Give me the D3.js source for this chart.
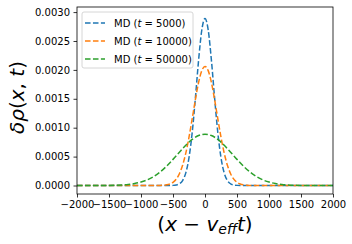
<!DOCTYPE html>
<html>
<head>
<meta charset="utf-8">
<script src="https://cdn.jsdelivr.net/npm/d3@7"></script>
<style>
  body { margin: 0; background: #fff; }
  text { font-family: "DejaVu Sans", sans-serif; fill: #000; }
</style>
</head>
<body>
<div class="chart"></div>
<script>
'use strict';

// series: position offset (x - v_eff t) and density change
var xBlue = [-2000, -1000, -600, -500, -450, -400, -350, -300, -250, -200, -150, -100, -50, 0,
             50, 100, 150, 200, 250, 300, 350, 400, 450, 500, 600, 1000, 2000];
var yBlue = [0, 0, 0, 0.0000022, 0.0000087, 0.0000293, 0.000086, 0.000218, 0.000481, 0.000917, 0.001515, 0.002169, 0.00269, 0.00289,
             0.00269, 0.002169, 0.001515, 0.000917, 0.000481, 0.000218, 0.000086, 0.0000293, 0.0000087, 0.0000022, 0, 0, 0];

var xOrange = [-2000, -1000, -750, -700, -650, -600, -550, -500, -450, -400, -350, -300, -250, -200, -150, -100, -50, 0,
               50, 100, 150, 200, 250, 300, 350, 400, 450, 500, 550, 600, 650, 700, 750, 1000, 2000];
var yOrange = [0, 0, 0, 0.0000017, 0.0000046, 0.0000113, 0.000026, 0.0000556, 0.00011, 0.000204, 0.000351, 0.000561, 0.000835, 0.001156, 0.001488, 0.001783, 0.001987, 0.00206,
               0.001987, 0.001783, 0.001488, 0.001156, 0.000835, 0.000561, 0.000351, 0.000204, 0.00011, 0.0000556, 0.000026, 0.0000113, 0.0000046, 0.0000017, 0, 0, 0];

var xGreen = [-2000, -1600, -1500, -1400, -1300, -1200, -1100, -1000, -900, -800, -700, -600, -500, -400, -300, -200, -100, 0,
              100, 200, 300, 400, 500, 600, 700, 800, 900, 1000, 1100, 1200, 1300, 1400, 1500, 1600, 2000];
var yGreen = [0, 0, 0.000002, 0.0000044, 0.0000092, 0.0000181, 0.0000337, 0.0000594, 0.0000994, 0.000157, 0.000236, 0.000335, 0.000452, 0.000576, 0.000696, 0.000797, 0.000864, 0.000888,
              0.000864, 0.000797, 0.000696, 0.000576, 0.000452, 0.000335, 0.000236, 0.000157, 0.0000994, 0.0000594, 0.0000337, 0.0000181, 0.0000092, 0.0000044, 0.000002, 0, 0];

var seriesLabels = ['5000', '10000', '50000'];
var seriesColors = ['#1f77b4', '#ff7f0e', '#2ca02c'];

var xTicks = [-2000, -1500, -1000, -500, 0, 500, 1000, 1500, 2000];
var yTicks = [0, 0.0005, 0.001, 0.0015, 0.002, 0.0025, 0.003];

function run() {
  var owidth = 352, oheight = 244;
  var margin = {top: 7, right: 19, bottom: 50, left: 77};
  var cwidth = owidth - margin.left - margin.right;
  var cheight = oheight - margin.top - margin.bottom;

  var xScale = d3.scaleLinear().domain([-2000, 2000]).range([0, cwidth]);
  var yScale = d3.scaleLinear().domain([-0.000147, 0.003088]).range([cheight, 0]);

  var svg = d3.select('.chart').append('svg')
    .attr('width', owidth)
    .attr('height', oheight);
  var chart = svg.append('g')
    .attr('transform', 'translate(' + margin.left + ',' + margin.top + ')');

  var series = [
    {x: xBlue, y: yBlue},
    {x: xOrange, y: yOrange},
    {x: xGreen, y: yGreen}
  ].map(function(s) {
    return s.x.map(function(v, i) { return [v, s.y[i]]; });
  });

  var line = d3.line()
    .x(function(d) { return xScale(d[0]); })
    .y(function(d) { return yScale(d[1]); })
    .curve(d3.curveMonotoneX);

  var clip = chart.append('clipPath').attr('id', 'clip')
    .append('rect').attr('width', cwidth).attr('height', cheight);

  chart.append('g').attr('clip-path', 'url(#clip)')
    .selectAll('path')
    .data(series)
    .enter().append('path')
    .attr('fill', 'none')
    .attr('stroke', function(d, i) { return seriesColors[i]; })
    .attr('stroke-width', 1.5)
    .attr('stroke-dasharray', '5.55,2.4')
    .attr('d', line);

  // Axes
  var xAxis = d3.axisBottom(xScale).tickValues(xTicks).tickSize(3.5).tickPadding(3.5)
    .tickFormat(d3.format('d'));
  var yAxis = d3.axisLeft(yScale).tickValues(yTicks).tickSize(3.5).tickPadding(3.5)
    .tickFormat(d3.format('.4f'));

  var gx = chart.append('g').attr('transform', 'translate(0,' + cheight + ')').call(xAxis);
  var gy = chart.append('g').call(yAxis);
  [gx, gy].forEach(function(g) {
    g.select('.domain').remove();
    g.selectAll('line').attr('stroke', '#000').attr('stroke-width', 0.8);
    g.selectAll('text').attr('font-size', 10).attr('font-family', 'DejaVu Sans').attr('fill', '#000');
  });

  chart.append('rect')
    .attr('width', cwidth).attr('height', cheight)
    .attr('fill', 'none').attr('stroke', '#000').attr('stroke-width', 0.8);

  // Legend
  var leg = chart.append('g').attr('transform', 'translate(5,5)');
  leg.append('rect')
    .attr('width', 111).attr('height', 56).attr('rx', 2)
    .attr('fill', '#fff').attr('fill-opacity', 0.8)
    .attr('stroke', '#ccc').attr('stroke-width', 0.8);
  seriesLabels.forEach(function(lbl, i) {
    var yy = 11 + i * 18;
    leg.append('line')
      .attr('x1', 3).attr('x2', 23).attr('y1', yy).attr('y2', yy)
      .attr('stroke', seriesColors[i]).attr('stroke-width', 1.5)
      .attr('stroke-dasharray', '5.55,2.4');
    var t = leg.append('text').attr('x', 32).attr('y', yy + 3.5).attr('font-size', 10);
    t.append('tspan').text('MD (');
    t.append('tspan').attr('font-style', 'italic').text('t');
    t.append('tspan').text(' = ' + lbl + ')');
  });

  // Axis labels
  var xl = svg.append('text')
    .attr('x', margin.left + cwidth / 2).attr('y', 231)
    .attr('text-anchor', 'middle').attr('font-size', 20);
  xl.append('tspan').text('(');
  xl.append('tspan').attr('font-style', 'italic').text('x');
  xl.append('tspan').text(' \u2212 ');
  xl.append('tspan').attr('font-style', 'italic').text('v');
  xl.append('tspan').attr('font-style', 'italic').attr('font-size', 14).attr('dy', 3).text('eff');
  xl.append('tspan').attr('font-style', 'italic').attr('dy', -3).text('t');
  xl.append('tspan').text(')');

  var yl = svg.append('text')
    .attr('transform', 'translate(24,' + (margin.top + cheight / 2 - 3) + ') rotate(-90)')
    .attr('text-anchor', 'middle').attr('font-size', 20);
  yl.append('tspan').attr('font-style', 'italic').text('\u03b4\u03c1');
  yl.append('tspan').text('(');
  yl.append('tspan').attr('font-style', 'italic').text('x');
  yl.append('tspan').text(', ');
  yl.append('tspan').attr('font-style', 'italic').text('t');
  yl.append('tspan').text(')');
}

document.addEventListener('DOMContentLoaded', run);
</script>
</body>
</html>
